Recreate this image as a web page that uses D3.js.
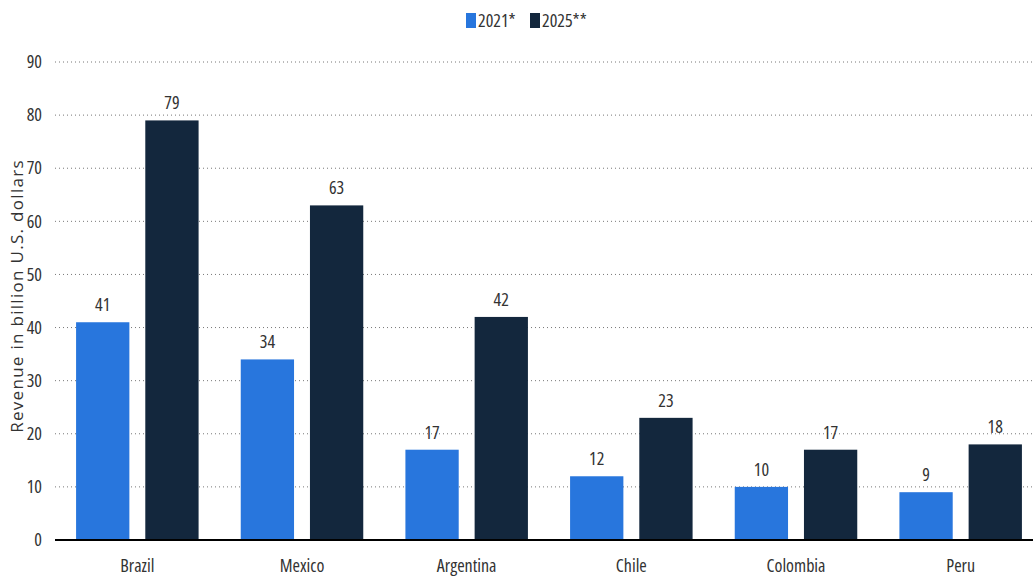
<!DOCTYPE html>
<html>
<head>
<meta charset="utf-8">
<title>Revenue by country</title>
<script src="https://cdn.jsdelivr.net/npm/d3@7"></script>
<style>
  body { margin: 0; background: #fff; }
  text { font-family: 'Open Sans', sans-serif; fill: #333; font-stretch: condensed; }
</style>
</head>
<body>
<svg id="chart" width="1033" height="576"></svg>
<script>
  var countries = ["Brazil", "Mexico", "Argentina", "Chile", "Colombia", "Peru"];
  var series = ["2021*", "2025**"];
  var values2021 = [41, 34, 17, 12, 10, 9];
  var values2025 = [79, 63, 42, 23, 17, 18];
  var yTicks = [0, 10, 20, 30, 40, 50, 60, 70, 80, 90];
  var colors = ["#2876dd", "#13273d"];

  var svg = d3.select("#chart");
  var plotLeft = 55, plotRight = 1043, plotTop = 62, plotBottom = 540;
  var fs = 18;

  var x = d3.scaleBand().domain(countries).range([plotLeft, plotRight]).paddingInner(0.256).paddingOuter(0.128);
  var xInner = d3.scaleBand().domain(series).range([0, x.bandwidth()]).paddingInner(0.23);
  var y = d3.scaleLinear().domain([0, 90]).range([plotBottom, plotTop]);

  // grid
  svg.append("g").selectAll("line")
    .data(yTicks.slice(1))
    .enter().append("line")
    .attr("x1", plotLeft).attr("x2", 1033)
    .attr("y1", function(d) { return y(d); })
    .attr("y2", function(d) { return y(d); })
    .attr("stroke", "#777")
    .attr("stroke-width", 1)
    .attr("stroke-dasharray", "1,3");

  // y axis labels
  var yAxis = d3.axisLeft(y).tickValues(yTicks).tickSize(0).tickPadding(0);
  var gy = svg.append("g").attr("transform", "translate(42,0)").call(yAxis);
  gy.select(".domain").remove();
  gy.selectAll("text").attr("font-size", fs).attr("fill", "#333")
    .style("font-family", "'Open Sans', sans-serif");

  svg.append("text")
    .attr("transform", "translate(23,296) rotate(-90)")
    .attr("text-anchor", "middle")
    .attr("font-size", 17)
    .attr("fill", "#444")
    .attr("letter-spacing", 1.3)
    .style("font-stretch", "normal")
    .text("Revenue in billion U.S. dollars");

  var data = countries.map(function(c, i) {
    return { country: c, vals: [values2021[i], values2025[i]] };
  });

  var groups = svg.append("g").selectAll("g")
    .data(data)
    .enter().append("g")
    .attr("transform", function(d) { return "translate(" + x(d.country) + ",0)"; });

  groups.selectAll("rect")
    .data(function(d) { return d.vals.map(function(v, j) { return { s: series[j], v: v, j: j }; }); })
    .enter().append("rect")
    .attr("x", function(d) { return xInner(d.s); })
    .attr("width", xInner.bandwidth())
    .attr("y", function(d) { return y(d.v); })
    .attr("height", function(d) { return y(0) - y(d.v); })
    .attr("fill", function(d) { return colors[d.j]; });

  groups.selectAll("text.val")
    .data(function(d) { return d.vals.map(function(v, j) { return { s: series[j], v: v }; }); })
    .enter().append("text")
    .attr("class", "val")
    .attr("x", function(d) { return xInner(d.s) + xInner.bandwidth() / 2; })
    .attr("y", function(d) { return y(d.v) - 11; })
    .attr("text-anchor", "middle")
    .attr("font-size", fs)
    .text(function(d) { return d.v; });

  // baseline
  svg.append("line")
    .attr("x1", plotLeft).attr("x2", 1033)
    .attr("y1", y(0)).attr("y2", y(0))
    .attr("stroke", "#000").attr("stroke-width", 2);

  // x labels
  var xAxis = d3.axisBottom(x).tickSize(0).tickPadding(0);
  var gx = svg.append("g").attr("transform", "translate(0," + (plotBottom + 19) + ")").call(xAxis);
  gx.select(".domain").remove();
  gx.selectAll("text").attr("font-size", fs).attr("fill", "#333")
    .style("font-family", "'Open Sans', sans-serif");

  // legend
  var legX = [466, 530];
  var leg = svg.append("g").selectAll("g")
    .data(series)
    .enter().append("g")
    .attr("transform", function(d, i) { return "translate(" + legX[i] + ",13)"; });
  leg.append("rect").attr("width", 10).attr("height", 15)
    .attr("fill", function(d, i) { return colors[i]; });
  leg.append("text").attr("x", 12).attr("y", 14).attr("font-size", 18)
    .text(function(d) { return d; });
</script>
</body>
</html>
